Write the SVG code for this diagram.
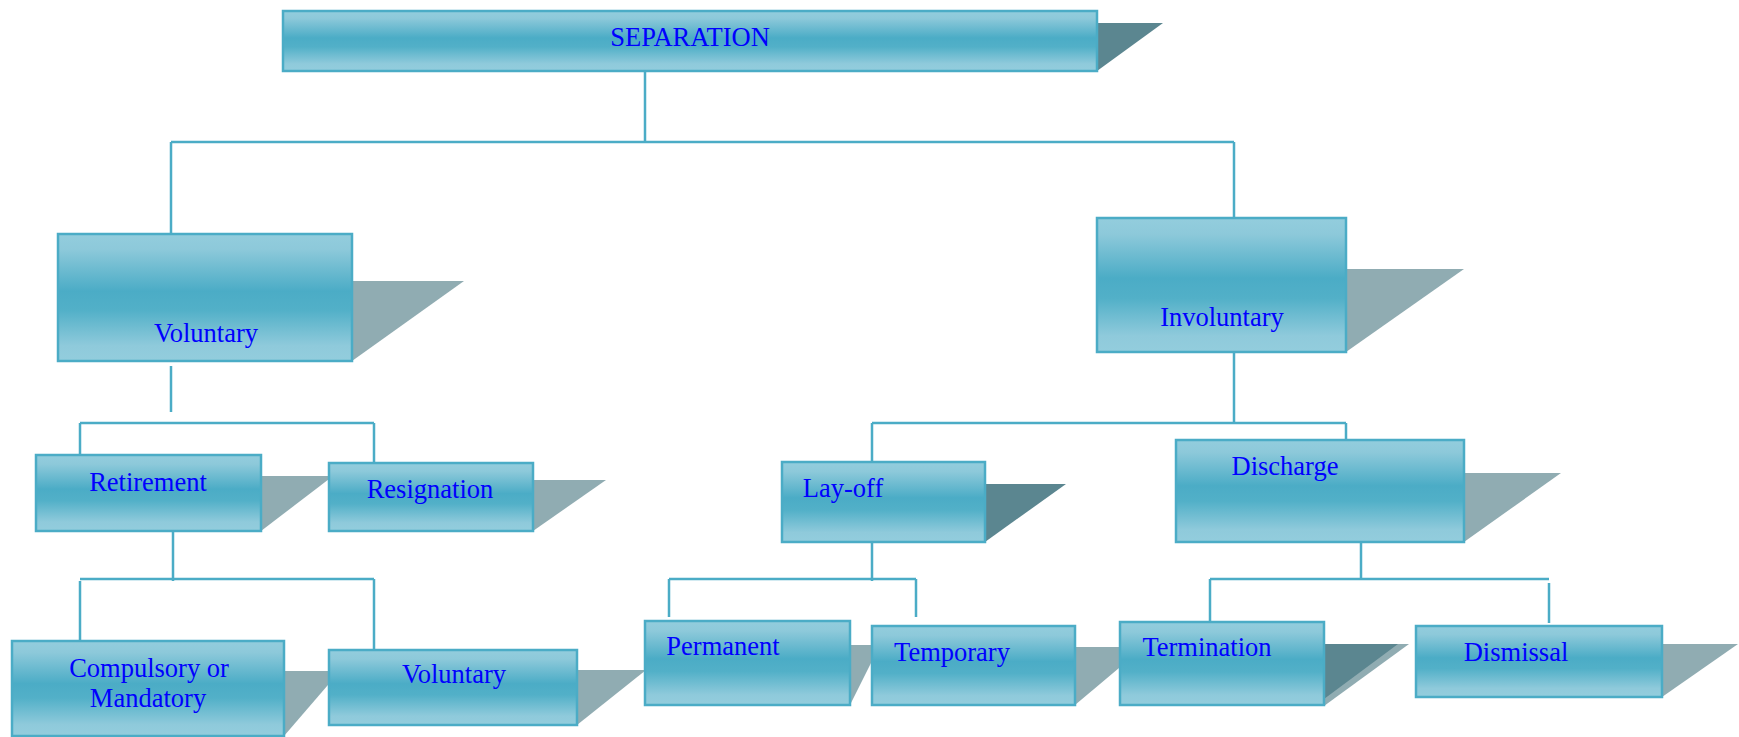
<svg xmlns="http://www.w3.org/2000/svg" width="1739" height="737" viewBox="0 0 1739 737">
<defs>
<linearGradient id="g" x1="0" y1="0" x2="0" y2="1">
<stop offset="0" stop-color="#93CDDD"/>
<stop offset="0.12" stop-color="#8DC9DA"/>
<stop offset="0.45" stop-color="#4BACC6"/>
<stop offset="0.6" stop-color="#52B0C8"/>
<stop offset="0.88" stop-color="#8FCADB"/>
<stop offset="1" stop-color="#93CDDD"/>
</linearGradient>
<style>
.box{fill:url(#g);stroke:#4BACC6;stroke-width:2.5}
.sh{fill:#90ACB2}
.shd{fill:#5B8690}
.t{font-family:"Liberation Serif","Times New Roman",serif;font-size:26.5px;fill:#0000FF;text-anchor:middle}
.c{fill:none;stroke:#4BACC6;stroke-width:2.5}
</style>
</defs>
<rect width="1739" height="737" fill="#FFFFFF"/>
<g id="connectors" class="c">
<path d="M645 71V142M171 142H1234M171 142V234M1234 142V218"/>
<path d="M171 366V412M80 423H374M80 423V455M374 423V463"/>
<path d="M173 531V581M80 579H374M80 581V641M374 579V650"/>
<path d="M1234 352V423M872 423H1346M872 423V462M1346 423V440"/>
<path d="M872 542V581M669 579H916M669 579V617M916 579V617"/>
<path d="M1361 542V579M1210 579H1549M1210 579V621M1549 583V623"/>
</g>
<g id="separation">
<polygon class="shd" points="1090,23 1163,23 1097,71 1090,71"/>
<rect class="box" x="283" y="11" width="814" height="60"/>
<text class="t" x="690" y="46">SEPARATION</text>
</g>
<g id="voluntary">
<polygon class="sh" points="345,281 464,281 352,361 345,361"/>
<rect class="box" x="58" y="234" width="294" height="127"/>
<text class="t" x="206" y="342">Voluntary</text>
</g>
<g id="retirement">
<polygon class="sh" points="255,476 333,476 261,531 255,531"/>
<rect class="box" x="36" y="455" width="225" height="76"/>
<text class="t" x="148" y="491">Retirement</text>
</g>
<g id="resignation">
<polygon class="sh" points="527,480 606,480 533,531 527,531"/>
<rect class="box" x="329" y="463" width="204" height="68"/>
<text class="t" x="430" y="498">Resignation</text>
</g>
<g id="compulsory">
<polygon class="sh" points="278,671 340,671 284,736 278,736"/>
<rect class="box" x="12" y="641" width="272" height="95"/>
<text class="t" x="149" y="677">Compulsory or</text>
<text class="t" x="148" y="707">Mandatory</text>
</g>
<g id="voluntary-retirement">
<polygon class="sh" points="571,670 646,670 577,725 571,725"/>
<rect class="box" x="329" y="650" width="248" height="75"/>
<text class="t" x="454" y="683">Voluntary</text>
</g>
<g id="involuntary">
<polygon class="sh" points="1340,269 1464,269 1346,352 1340,352"/>
<rect class="box" x="1097" y="218" width="249" height="134"/>
<text class="t" x="1222" y="326">Involuntary</text>
</g>
<g id="layoff">
<polygon class="shd" points="979,484 1066,484 985,542 979,542"/>
<rect class="box" x="782" y="462" width="203" height="80"/>
<text class="t" x="843" y="497">Lay-off</text>
</g>
<g id="discharge">
<polygon class="sh" points="1458,473 1561,473 1464,542 1458,542"/>
<rect class="box" x="1176" y="440" width="288" height="102"/>
<text class="t" x="1285" y="475">Discharge</text>
</g>
<g id="permanent">
<polygon class="sh" points="844,645 880,645 850,705 844,705"/>
<rect class="box" x="645" y="621" width="205" height="84"/>
<text class="t" x="723" y="655">Permanent</text>
</g>
<g id="temporary">
<polygon class="sh" points="1069,647 1144,647 1075,705 1069,705"/>
<rect class="box" x="872" y="626" width="203" height="79"/>
<text class="t" x="952" y="661">Temporary</text>
</g>
<g id="termination">
<polygon class="sh" points="1318,644 1409,644 1324,706 1318,706"/>
<polygon class="shd" points="1318,644 1398,644 1324,699 1318,699"/>
<rect class="box" x="1120" y="622" width="204" height="83"/>
<text class="t" x="1207" y="656">Termination</text>
</g>
<g id="dismissal">
<polygon class="sh" points="1656,644 1738,644 1662,697 1656,697"/>
<rect class="box" x="1416" y="626" width="246" height="71"/>
<text class="t" x="1516" y="661">Dismissal</text>
</g>
</svg>
